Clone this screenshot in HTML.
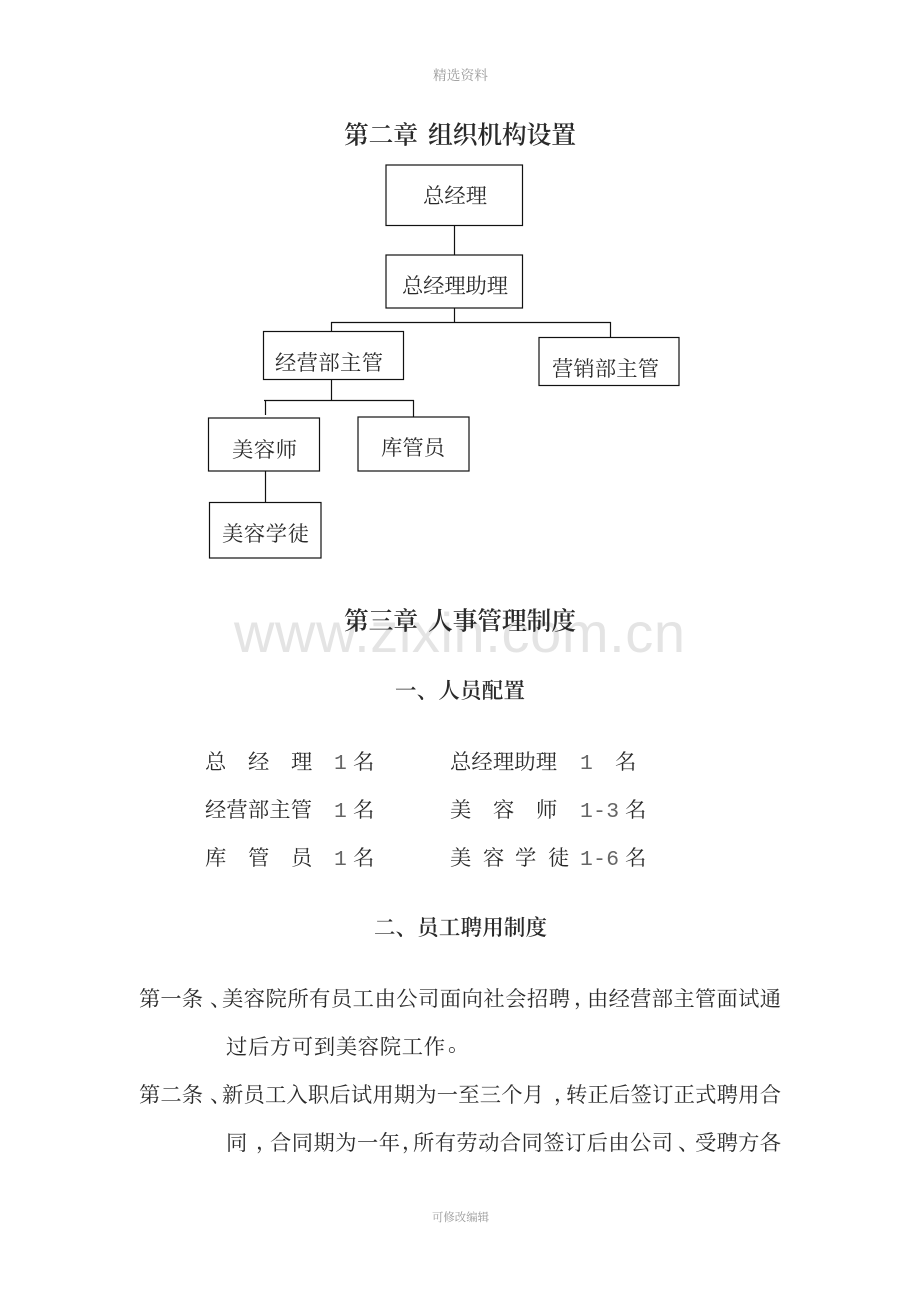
<!DOCTYPE html>
<html lang="zh"><head><meta charset="utf-8"><style>
html,body{margin:0;padding:0;background:#fff}
svg{display:block}
text{font-family:"Liberation Serif","Noto Serif CJK SC",serif;fill:#2a2a2a;font-size:21.3px}
.h{font-size:24.8px;font-weight:600;fill:#2a2a2a}
.s{font-size:21.5px;font-weight:600;fill:#2a2a2a}
.f{font-size:13.7px;fill:#999}
.g{font-size:11.4px;fill:#999}
.m{font-family:"Liberation Mono","Noto Serif CJK SC",monospace;fill:#666}
rect{fill:#fff;stroke:#111;stroke-width:1.2}
line{stroke:#111;stroke-width:1.2}
</style></head><body>
<svg width="920" height="1302" viewBox="0 0 920 1302" xmlns="http://www.w3.org/2000/svg">
<text x="433" y="80" class="f" textLength="55">精选资料</text>
<text x="432" y="1221" class="g" textLength="57">可修改编辑</text>
<text x="234" y="652" textLength="451" style="font-family:'Liberation Sans',sans-serif;font-size:56px;fill:#e4e4e4">www.zixin.com.cn</text>

<text x="344" y="143.500" class="h" textLength="74">第二章</text>
<text x="428" y="143.500" class="h" textLength="148">组织机构设置</text>
<line x1="454.5" y1="225" x2="454.5" y2="255"/>
<line x1="454.5" y1="308" x2="454.5" y2="322"/>
<line x1="331" y1="322.5" x2="611" y2="322.5"/>
<line x1="331.5" y1="322" x2="331.5" y2="332"/>
<line x1="610.5" y1="322" x2="610.5" y2="337"/>
<line x1="331.5" y1="380" x2="331.5" y2="401"/>
<line x1="264" y1="400.5" x2="414" y2="400.5"/>
<line x1="265.5" y1="400" x2="265.5" y2="415"/>
<line x1="413.5" y1="400" x2="413.5" y2="417"/>
<line x1="265.5" y1="471" x2="265.5" y2="503"/>
<rect x="386" y="165" width="136.500" height="60.500"/>
<rect x="386" y="255" width="136.500" height="53"/>
<rect x="263.500" y="331.500" width="140" height="48"/>
<rect x="539" y="337.500" width="140" height="48"/>
<rect x="208.500" y="418" width="111" height="53"/>
<rect x="358" y="417" width="111" height="54"/>
<rect x="209.500" y="502.500" width="111.500" height="55.500"/>
<text x="423" y="203" textLength="64">总经理</text>
<text x="402" y="293" textLength="106">总经理助理</text>
<text x="275" y="370" textLength="108">经营部主管</text>
<text x="552" y="376" textLength="107">营销部主管</text>
<text x="232" y="457" textLength="65">美容师</text>
<text x="381" y="455" textLength="64">库管员</text>
<text x="222" y="541" textLength="87">美容学徒</text>

<text x="344" y="629.500" class="h" textLength="74">第三章</text>
<text x="428" y="629.500" class="h" textLength="148">人事管理制度</text>
<text x="395" y="698" class="s" textLength="130">一、人员配置</text>

<text x="205" y="769">总</text><text x="248" y="769">经</text><text x="291" y="769">理</text>
<text x="334" y="769" class="m">1</text><text x="353" y="769">名</text>
<text x="450" y="769" textLength="107">总经理助理</text>
<text x="580" y="769" class="m">1</text><text x="615" y="769">名</text>

<text x="205" y="817" textLength="107">经营部主管</text>
<text x="334" y="817" class="m">1</text><text x="353" y="817">名</text>
<text x="450" y="817">美</text><text x="493" y="817">容</text><text x="536" y="817">师</text>
<text x="580" y="817" class="m" textLength="39">1-3</text><text x="625" y="817">名</text>

<text x="205" y="865">库</text><text x="248" y="865">管</text><text x="291" y="865">员</text>
<text x="334" y="865" class="m">1</text><text x="353" y="865">名</text>
<text x="450" y="865">美</text><text x="483" y="865">容</text><text x="515" y="865">学</text><text x="548" y="865">徒</text>
<text x="580" y="865" class="m" textLength="39">1-6</text><text x="625" y="865">名</text>

<text x="374" y="935" class="s" textLength="173">二、员工聘用制度</text>

<text x="139" y="1006" textLength="64">第一条</text><text x="210" y="1006">、</text>
<text x="222" y="1006" textLength="348">美容院所有员工由公司面向社会招聘</text><text x="574" y="1005">，</text>
<text x="587" y="1006" textLength="194">由经营部主管面试通</text>

<text x="226" y="1054" textLength="219">过后方可到美容院工作</text><text x="448" y="1051">。</text>

<text x="139" y="1102" textLength="64">第二条</text><text x="210" y="1102">、</text>
<text x="222" y="1102" textLength="322">新员工入职后试用期为一至三个月</text><text x="554" y="1101">，</text>
<text x="566" y="1102" textLength="215">转正后签订正式聘用合</text>

<text x="226" y="1150" textLength="21">同</text><text x="256" y="1149">，</text>
<text x="270" y="1150" textLength="130">合同期为一年</text><text x="402" y="1149">，</text>
<text x="413" y="1150" textLength="260">所有劳动合同签订后由公司</text><text x="678" y="1150">、</text>
<text x="695" y="1150" textLength="86">受聘方各</text>
</svg>
</body></html>
